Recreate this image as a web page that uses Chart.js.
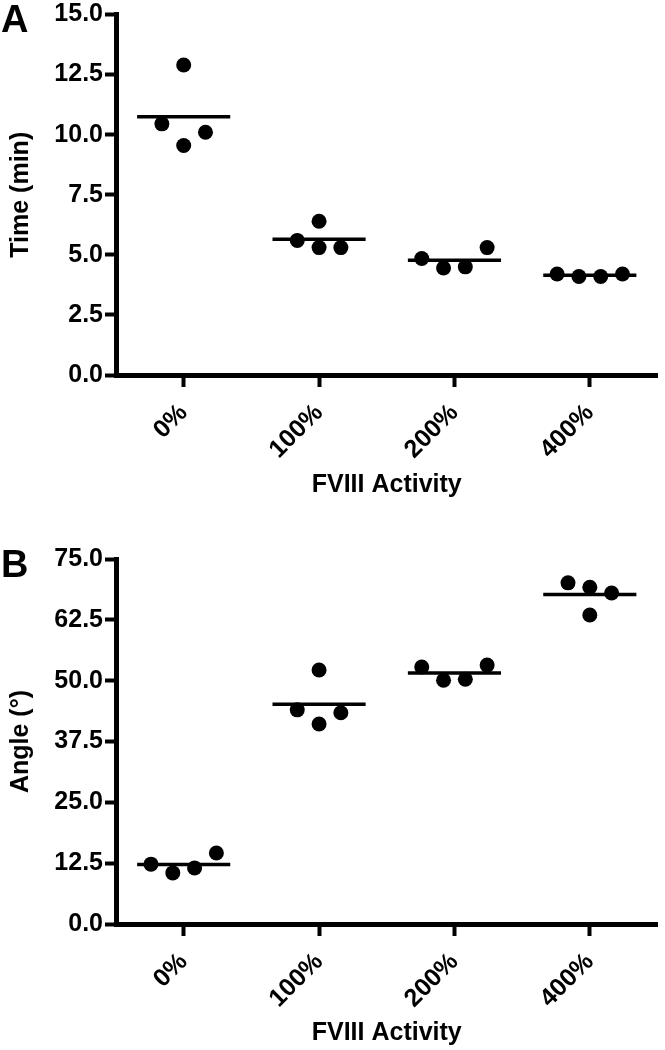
<!DOCTYPE html>
<html>
<head>
<meta charset="utf-8">
<script src="https://cdn.jsdelivr.net/npm/chart.js@4.4.1/dist/chart.umd.min.js"></script>
<style>
  body { margin: 0; background: #fff; }
  #wrap { position: relative; width: 665px; height: 1050px; }
  .panel { position: absolute; left: 0; width: 665px; }
  .tag { position: absolute; left: 1px; font: bold 38px "Liberation Sans", Arial, sans-serif; line-height: 1; color: #000; }
</style>
</head>
<body>
<div id="wrap">
  <div class="panel" style="top:0;height:520px"><canvas id="chartA" width="665" height="520"></canvas></div>
  <div class="panel" style="top:520px;height:530px"><canvas id="chartB" width="665" height="530"></canvas></div>
  <div class="tag" style="top:0">A</div>
  <div class="tag" style="top:545px">B</div>
</div>
<script>
/* DATA */

const categories = ["0%", "100%", "200%", "400%"];

// replicates per FVIII level
const timeMin = [
  [10.45, 12.9, 9.55, 10.1],
  [5.6, 6.4, 5.3, 5.3],
  [4.85, 4.45, 4.5, 5.3],
  [4.2, 4.1, 4.1, 4.2]
];

const angleDeg = [
  [12.3, 10.5, 11.5, 14.6],
  [44.0, 52.2, 41.1, 43.4],
  [52.8, 50.1, 50.3, 53.2],
  [70.1, 63.5, 69.2, 68.0]
];

const timeTicks = [0, 2.5, 5, 7.5, 10, 12.5, 15];
const angleTicks = [0, 12.5, 25, 37.5, 50, 62.5, 75];

/* HELPERS */

const FONT = '"Liberation Sans", Arial, sans-serif';
const SLOT = 0.161;      // side-by-side step for dots that would overlap
const HALF_MEAN = 0.344; // half width of the mean bar

// spread dots that sit too close vertically (simple column scatter)
function spread(groups, range){

  const limit = range * 0.04;
  const pts = [];

  groups.forEach((vals, i) => {

    const order = vals.map((v, k) => k).sort((a, b) => vals[a] - vals[b]);
    const clusters = [];

    order.forEach(k => {
      const last = clusters[clusters.length - 1];
      if(last && vals[k] - vals[last[last.length - 1]] < limit){
        last.push(k);
      } else {
        clusters.push([k]);
      }
    });

    clusters.forEach(c => {
      c.sort((a, b) => a - b);
      c.forEach((k, j) => {
        pts.push({ x: i + (j - (c.length - 1) / 2) * SLOT, y: vals[k] });
      });
    });

  });

  return pts;
}

function meanLines(groups){

  const pts = [];

  groups.forEach((vals, i) => {
    const m = vals.reduce((a, b) => a + b, 0) / vals.length;
    pts.push({ x: i - HALF_MEAN, y: m });
    pts.push({ x: i + HALF_MEAN, y: m });
    pts.push({ x: i + 0.5, y: null });
  });

  return pts;
}

function makeChart(id, groups, ticks, yTitle, box){

  const lo = ticks[0];
  const hi = ticks[ticks.length - 1];

  const tickFont = { family: FONT, size: 25, weight: "bold", lineHeight: 1 };
  const titleFont = { family: FONT, size: 25, weight: "bold", lineHeight: 1.2 };

  return new Chart(document.getElementById(id), {

    type: "scatter",

    data: {
      datasets: [
        {
          data: spread(groups, hi - lo),
          pointRadius: 7.5,
          pointBorderWidth: 0,
          backgroundColor: "#000",
          borderColor: "#000"
        },
        {
          type: "line",
          data: meanLines(groups),
          borderColor: "#000",
          borderWidth: 3.5,
          borderCapStyle: "butt",
          pointRadius: 0,
          spanGaps: false,
          fill: false
        }
      ]
    },

    options: {
      responsive: false,
      animation: false,
      layout: { padding: { left: 0, right: 4, top: box.top, bottom: box.bottom } },
      plugins: {
        legend: { display: false },
        tooltip: { enabled: false }
      },
      scales: {
        x: {
          type: "linear",
          min: -0.5,
          max: 3.5,
          afterBuildTicks: s => { s.ticks = categories.map((c, i) => ({ value: i })); },
          afterFit: s => { s.height = box.xHeight; },
          ticks: {
            callback: v => categories[v],
            minRotation: 45,
            maxRotation: 45,
            padding: 13,
            color: "#000",
            font: tickFont
          },
          grid: {
            drawOnChartArea: false,
            drawTicks: true,
            tickLength: 12,
            tickWidth: 4,
            tickColor: "#000"
          },
          border: { display: true, width: 5, color: "#000" },
          title: {
            display: true,
            text: "FVIII Activity",
            color: "#000",
            font: titleFont,
            padding: { top: 0, bottom: 0 }
          }
        },
        y: {
          min: lo,
          max: hi,
          afterBuildTicks: s => { s.ticks = ticks.map(v => ({ value: v })); },
          afterFit: s => { s.width = 116; },
          ticks: {
            callback: v => v.toFixed(1),
            padding: 2,
            color: "#000",
            font: tickFont
          },
          grid: {
            drawOnChartArea: false,
            drawTicks: true,
            tickLength: 11,
            tickWidth: 4,
            tickColor: "#000"
          },
          border: { display: true, width: 5, color: "#000" },
          title: {
            display: true,
            text: yTitle,
            color: "#000",
            font: titleFont,
            padding: { top: 6, bottom: 0 }
          }
        }
      }
    }

  });

}

makeChart("chartA", timeMin, timeTicks, "Time (min)", { top: 13, bottom: 20, xHeight: 125 });
makeChart("chartB", angleDeg, angleTicks, "Angle (°)", { top: 39, bottom: 2, xHeight: 124 });
</script>
</body>
</html>
